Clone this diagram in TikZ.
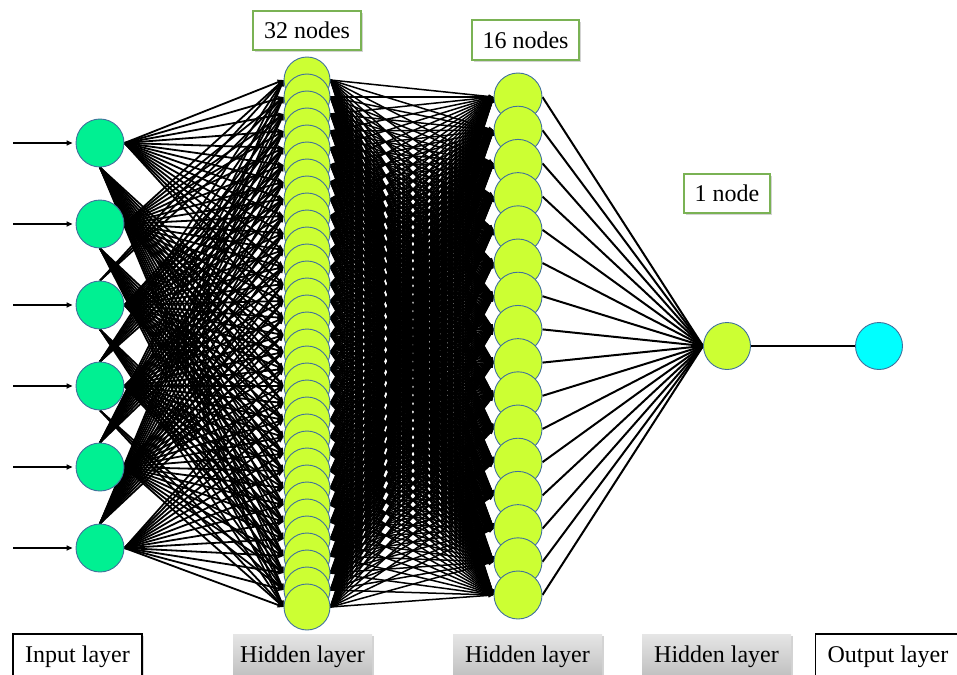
\documentclass[tikz,border=0pt]{standalone}
\usepackage{fontspec}
\setmainfont{Liberation Serif}
\usetikzlibrary{arrows.meta,shadows}
\pgfdeclarelayer{bg}
\pgfsetlayers{bg,main}
\definecolor{incol}{RGB}{0,240,146}
\definecolor{hidcol}{RGB}{204,255,51}
\definecolor{outcol}{RGB}{0,255,255}
\definecolor{ringcol}{RGB}{65,113,156}
\definecolor{lblgreen}{RGB}{122,178,84}
\begin{document}
\begin{tikzpicture}[x=1pt,y=-1pt,
  neuron/.style={circle,draw=ringcol,line width=0.9pt,inner sep=0pt},
  innode/.style={neuron,fill=incol,minimum size=48pt},
  honenode/.style={neuron,fill=hidcol,minimum size=46pt},
  htwonode/.style={neuron,fill=hidcol,minimum size=48pt},
  hthreenode/.style={neuron,fill=hidcol,minimum size=47pt},
  onode/.style={neuron,fill=outcol,minimum size=47pt},
  link/.style={line width=1.8pt,-{Triangle[length=6pt,width=5pt]}},
  dense/.style={line width=1.5pt,-{Triangle[length=5pt,width=4pt]}},
  fan/.style={line width=2pt},
  feed/.style={line width=1.8pt,-{Triangle[length=6pt,width=5pt]},shorten >=3pt},
  lblfont/.style={font=\fontsize{24}{28}\selectfont},
  toplbl/.style={lblfont,draw=lblgreen,line width=1.6pt,fill=white,inner sep=0pt,
    drop shadow={opacity=0.35,shadow xshift=2pt,shadow yshift=-2pt}},
  botlbl/.style={lblfont,inner sep=0pt,minimum height=46pt},
  whitelbl/.style={botlbl,draw=black,line width=1.2pt,fill=white,
    drop shadow={opacity=0.3,shadow xshift=2pt,shadow yshift=-2pt}},
  greylbl/.style={botlbl,top color=black!10,bottom color=black!26,draw=none,
    drop shadow={opacity=0.35,shadow xshift=2pt,shadow yshift=-2pt}}
]
\useasboundingbox (0,0) rectangle (957,674);
\clip (0,0) rectangle (957,674);

% input nodes
\foreach \i in {1,...,6}{
  \node[innode] (in\i) at (100,{143+(\i-1)*81}) {};
  \coordinate (src\i) at (13,{143+(\i-1)*81});
}
% hidden layer 1 (lower nodes on top)
\foreach \j in {1,...,32}{
  \node[honenode] (ha\j) at (307,{80+(\j-1)*17}) {};
}
% hidden layer 2
\foreach \k in {1,...,16}{
  \node[htwonode] (hb\k) at (518,{97+(\k-1)*33.2}) {};
}
\node[hthreenode] (hc) at (727,346) {};
\node[onode] (out) at (879,346) {};

% connectors (behind nodes)
\begin{pgfonlayer}{bg}
\foreach \i in {1,...,6}{
  \draw[feed] (src\i) -- (in\i.west);
  \foreach \j in {1,...,32}{
    \pgfmathtruncatemacro{\d}{(80+(\j-1)*17)-(143+(\i-1)*81)}
    \ifnum\d<-184 \def\an{north}\else\ifnum\d>184 \def\an{south}\else\def\an{east}\fi\fi
    \draw[link] (in\i.\an) -- (ha\j.west);
  }
}
\foreach \j in {1,...,32}{
  \foreach \k in {1,...,16}{
    \draw[dense] (ha\j.east) -- (hb\k.west);
  }
}
\foreach \k in {1,...,16}{
  \draw[fan] (hb\k.east) -- (hc.west);
}
\draw[fan] (hc.east) -- (out.west);
\end{pgfonlayer}

% labels
\node[toplbl,minimum width=108pt,minimum height=39pt] (l32) at (307,30.5) {32 nodes};
\node[toplbl,minimum width=107pt,minimum height=40pt] (l16) at (525.5,40) {16 nodes};
\node[toplbl,minimum width=86pt,minimum height=39pt] (l1) at (727,193.5) {1 node};

\node[whitelbl,minimum width=129pt] (linput) at (77.5,657) {Input layer};
\node[greylbl,minimum width=139pt] (lh1) at (302.5,657) {Hidden layer};
\node[greylbl,minimum width=149pt] (lh2) at (527.5,657) {Hidden layer};
\node[greylbl,minimum width=149pt] (lh3) at (716.5,657) {Hidden layer};
\node[whitelbl,anchor=west,inner xsep=12pt] (loutput) at (815,657) {Output layer};
\end{tikzpicture}
\end{document}
